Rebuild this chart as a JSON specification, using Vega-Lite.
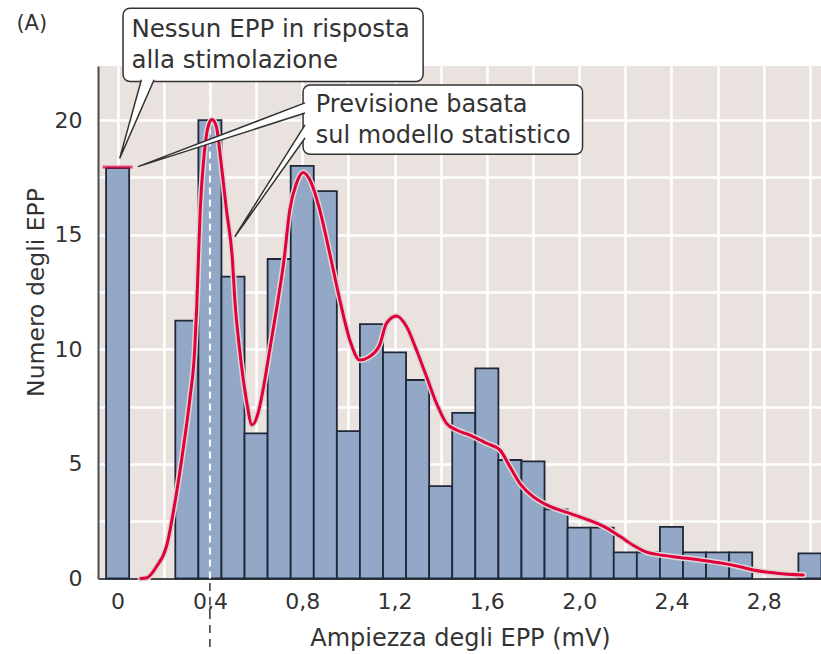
{
  "$schema": "https://vega.github.io/schema/vega-lite/v6.json",
  "width": 723,
  "height": 512.5,
  "autosize": "none",
  "padding": {"left": 98, "top": 66, "right": 0, "bottom": 75.5},
  "background": "white",
  "config": {
    "view": {"fill": "#e9e2df", "stroke": null},
    "font": "DejaVu Sans",
    "text": {"font": "DejaVu Sans", "color": "#333333"}
  },
  "datasets": {
    "hist": [
      {"bin_start": -0.05, "bin_end": 0.05, "count": 17.9},
      {"bin_start": 0.25, "bin_end": 0.35, "count": 11.25},
      {"bin_start": 0.35, "bin_end": 0.45, "count": 20.0},
      {"bin_start": 0.45, "bin_end": 0.55, "count": 13.17},
      {"bin_start": 0.55, "bin_end": 0.65, "count": 6.33},
      {"bin_start": 0.65, "bin_end": 0.75, "count": 13.94},
      {"bin_start": 0.75, "bin_end": 0.85, "count": 18.0},
      {"bin_start": 0.85, "bin_end": 0.95, "count": 16.9},
      {"bin_start": 0.95, "bin_end": 1.05, "count": 6.43},
      {"bin_start": 1.05, "bin_end": 1.15, "count": 11.1},
      {"bin_start": 1.15, "bin_end": 1.25, "count": 9.87},
      {"bin_start": 1.25, "bin_end": 1.35, "count": 8.66},
      {"bin_start": 1.35, "bin_end": 1.45, "count": 4.03},
      {"bin_start": 1.45, "bin_end": 1.55, "count": 7.23},
      {"bin_start": 1.55, "bin_end": 1.65, "count": 9.17},
      {"bin_start": 1.65, "bin_end": 1.75, "count": 5.17},
      {"bin_start": 1.75, "bin_end": 1.85, "count": 5.11},
      {"bin_start": 1.85, "bin_end": 1.95, "count": 3.02},
      {"bin_start": 1.95, "bin_end": 2.05, "count": 2.22},
      {"bin_start": 2.05, "bin_end": 2.15, "count": 2.22},
      {"bin_start": 2.15, "bin_end": 2.25, "count": 1.14},
      {"bin_start": 2.25, "bin_end": 2.35, "count": 1.14},
      {"bin_start": 2.35, "bin_end": 2.45, "count": 2.25},
      {"bin_start": 2.45, "bin_end": 2.55, "count": 1.14},
      {"bin_start": 2.55, "bin_end": 2.65, "count": 1.14},
      {"bin_start": 2.65, "bin_end": 2.75, "count": 1.14},
      {"bin_start": 2.95, "bin_end": 3.05, "count": 1.1}
    ],
    "model": [
      {"amp": 0.10, "n": 0},
      {"amp": 0.125, "n": 0.02},
      {"amp": 0.168, "n": 0.51},
      {"amp": 0.2115, "n": 1.39},
      {"amp": 0.255, "n": 3.72},
      {"amp": 0.2835, "n": 5.61},
      {"amp": 0.3125, "n": 7.79},
      {"amp": 0.334, "n": 9.97},
      {"amp": 0.343, "n": 11.9},
      {"amp": 0.350, "n": 13.9},
      {"amp": 0.358, "n": 16.08},
      {"amp": 0.373, "n": 18.26},
      {"amp": 0.392, "n": 19.71},
      {"amp": 0.409, "n": 20.03},
      {"amp": 0.428, "n": 19.71},
      {"amp": 0.447, "n": 18.26},
      {"amp": 0.4716, "n": 16.08},
      {"amp": 0.4976, "n": 13.9},
      {"amp": 0.508, "n": 12.15},
      {"amp": 0.529, "n": 9.97},
      {"amp": 0.558, "n": 7.79},
      {"amp": 0.5826, "n": 6.7},
      {"amp": 0.6086, "n": 7.21},
      {"amp": 0.630, "n": 8.22},
      {"amp": 0.659, "n": 9.97},
      {"amp": 0.688, "n": 11.71},
      {"amp": 0.721, "n": 13.9},
      {"amp": 0.746, "n": 16.08},
      {"amp": 0.775, "n": 17.24},
      {"amp": 0.804, "n": 17.71},
      {"amp": 0.840, "n": 17.24},
      {"amp": 0.876, "n": 16.08},
      {"amp": 0.919, "n": 14.19},
      {"amp": 0.963, "n": 12.15},
      {"amp": 1.006, "n": 10.41},
      {"amp": 1.050, "n": 9.53},
      {"amp": 1.092, "n": 9.68},
      {"amp": 1.136, "n": 10.2},
      {"amp": 1.165, "n": 11.13},
      {"amp": 1.208, "n": 11.45},
      {"amp": 1.252, "n": 10.99},
      {"amp": 1.295, "n": 9.97},
      {"amp": 1.339, "n": 8.8},
      {"amp": 1.382, "n": 7.64},
      {"amp": 1.425, "n": 6.77},
      {"amp": 1.469, "n": 6.48},
      {"amp": 1.526, "n": 6.26},
      {"amp": 1.599, "n": 5.9},
      {"amp": 1.656, "n": 5.61},
      {"amp": 1.700, "n": 4.88},
      {"amp": 1.743, "n": 4.15},
      {"amp": 1.801, "n": 3.57},
      {"amp": 1.859, "n": 3.21},
      {"amp": 1.960, "n": 2.84},
      {"amp": 2.061, "n": 2.47},
      {"amp": 2.120, "n": 2.2},
      {"amp": 2.175, "n": 1.85},
      {"amp": 2.234, "n": 1.45},
      {"amp": 2.292, "n": 1.15},
      {"amp": 2.350, "n": 1.03},
      {"amp": 2.436, "n": 0.92},
      {"amp": 2.523, "n": 0.81},
      {"amp": 2.624, "n": 0.66},
      {"amp": 2.697, "n": 0.51},
      {"amp": 2.754, "n": 0.37},
      {"amp": 2.856, "n": 0.23},
      {"amp": 2.971, "n": 0.15}
    ],
    "boxes": [
      {"box": "nessun", "x0": 0.0234, "x1": 1.3238, "y0": 21.68, "y1": 24.88},
      {"box": "previsione", "x0": 0.8036, "x1": 2.0147, "y0": 18.51, "y1": 21.53}
    ],
    "tails": [
      {"tail": "t1", "i": 0, "amp": 0.103, "n": 21.76},
      {"tail": "t1", "i": 1, "amp": 0.009, "n": 18.33},
      {"tail": "t1", "i": 2, "amp": 0.158, "n": 21.76},
      {"tail": "t2", "i": 0, "amp": 0.812, "n": 20.75},
      {"tail": "t2", "i": 1, "amp": 0.0884, "n": 17.97},
      {"tail": "t2", "i": 2, "amp": 0.812, "n": 20.31},
      {"tail": "t3", "i": 0, "amp": 0.812, "n": 19.79},
      {"tail": "t3", "i": 1, "amp": 0.5076, "n": 14.91},
      {"tail": "t3", "i": 2, "amp": 0.812, "n": 19.22}
    ],
    "labels": [
      {"amp": 0.0598, "n": 23.61, "text": "Nessun EPP in risposta", "size": 24.5},
      {"amp": 0.0598, "n": 22.26, "text": "alla stimolazione", "size": 24.5},
      {"amp": 0.8587, "n": 20.34, "text": "Previsione basata", "size": 24},
      {"amp": 0.8587, "n": 18.99, "text": "sul modello statistico", "size": 24},
      {"amp": -0.4387, "n": 23.95, "text": "(A)", "size": 21}
    ]
  },
  "layer": [
    {
      "data": {"name": "hist"},
      "mark": {"type": "rect", "fill": "#93a8c7", "stroke": "#1f2838", "strokeWidth": 1.8},
      "encoding": {
        "x": {
          "field": "bin_start", "type": "quantitative",
          "scale": {"domain": [-0.085, 3.048], "nice": false, "zero": false},
          "title": "Ampiezza degli EPP (mV)",
          "axis": {
            "values": [0, 0.1, 0.2, 0.3, 0.4, 0.5, 0.6, 0.7, 0.8, 0.9, 1.0, 1.1, 1.2, 1.3, 1.4, 1.5, 1.6, 1.7, 1.8, 1.9, 2.0, 2.1, 2.2, 2.3, 2.4, 2.5, 2.6, 2.7, 2.8, 2.9, 3.0],
            "grid": true, "gridColor": "#ffffff", "gridWidth": 2.5, "gridOpacity": 1,
            "ticks": false, "tickSize": 0,
            "domainColor": "#4a4a4a", "domainWidth": 2,
            "labelExpr": "round(datum.value*10) % 4 == 0 ? (datum.value == 0 ? '0' : replace(format(datum.value, '.1f'), '.', ',')) : ''",
            "labelFontSize": 22, "labelColor": "#333333", "labelFont": "DejaVu Sans",
            "labelBaseline": "alphabetic", "labelPadding": 29.5,
            "labelFlush": false, "labelOverlap": false,
            "titleFontSize": 24, "titleFontWeight": "normal", "titleColor": "#333333", "titleFont": "DejaVu Sans",
            "titleBaseline": "alphabetic", "titleY": 66.5, "titleX": 362
          }
        },
        "x2": {"field": "bin_end"},
        "y": {
          "field": "count", "type": "quantitative",
          "scale": {"domain": [0, 22.36], "nice": false},
          "title": "Numero degli EPP",
          "axis": {
            "values": [0, 2.5, 5, 7.5, 10, 12.5, 15, 17.5, 20],
            "grid": true, "gridColor": "#ffffff", "gridWidth": 2.5, "gridOpacity": 1,
            "ticks": false, "tickSize": 0,
            "domainColor": "#4a4a4a", "domainWidth": 2,
            "labelExpr": "datum.value % 5 == 0 ? datum.label : ''",
            "labelFontSize": 22, "labelColor": "#333333", "labelFont": "DejaVu Sans",
            "labelPadding": 16, "labelBaseline": "middle",
            "labelFlush": false, "labelOverlap": false,
            "titleFontSize": 23.5, "titleFontWeight": "normal", "titleColor": "#333333", "titleFont": "DejaVu Sans",
            "titleAngle": 270, "titleBaseline": "alphabetic", "titleAlign": "center",
            "titleX": -55, "titleY": 226
          }
        },
        "y2": {"datum": 0}
      }
    },
    {
      "data": {"values": [{"amp": 0.4}]},
      "mark": {"type": "rule", "color": "white", "strokeWidth": 2, "strokeDash": [7, 5]},
      "encoding": {
        "x": {"field": "amp", "type": "quantitative", "scale": {"domain": [-0.085, 3.048], "nice": false, "zero": false}, "title": "Ampiezza degli EPP (mV)"},
        "y": {"datum": 0, "type": "quantitative", "scale": {"domain": [0, 22.36], "nice": false}},
        "y2": {"datum": 22.36}
      }
    },
    {
      "data": {"values": [{"amp": 0.4}]},
      "mark": {"type": "rule", "color": "#333333", "strokeWidth": 1.5, "strokeDash": [8, 6], "clip": false},
      "encoding": {
        "x": {"field": "amp", "type": "quantitative", "scale": {"domain": [-0.085, 3.048], "nice": false, "zero": false}, "title": "Ampiezza degli EPP (mV)"},
        "y": {"datum": -0.2, "type": "quantitative", "scale": {"domain": [0, 22.36], "nice": false}},
        "y2": {"datum": -3.05}
      }
    },
    {
      "data": {"name": "model"},
      "mark": {"type": "line", "color": "#ddd5d5", "strokeWidth": 6, "interpolate": "monotone", "strokeCap": "round"},
      "encoding": {
        "x": {"field": "amp", "type": "quantitative", "scale": {"domain": [-0.085, 3.048], "nice": false, "zero": false}, "title": "Ampiezza degli EPP (mV)"},
        "y": {"field": "n", "type": "quantitative", "scale": {"domain": [0, 22.36], "nice": false}, "title": "Numero degli EPP"}
      }
    },
    {
      "data": {"name": "model"},
      "mark": {"type": "line", "color": "#e2003b", "strokeWidth": 3, "interpolate": "monotone", "strokeCap": "round"},
      "encoding": {
        "x": {"field": "amp", "type": "quantitative", "scale": {"domain": [-0.085, 3.048], "nice": false, "zero": false}, "title": "Ampiezza degli EPP (mV)"},
        "y": {"field": "n", "type": "quantitative", "scale": {"domain": [0, 22.36], "nice": false}, "title": "Numero degli EPP"}
      }
    },
    {
      "data": {"values": [{"amp": 0, "n": 17.95}]},
      "mark": {"type": "tick", "orient": "horizontal", "color": "#e2003b", "size": 30, "thickness": 3},
      "encoding": {
        "x": {"field": "amp", "type": "quantitative", "scale": {"domain": [-0.085, 3.048], "nice": false, "zero": false}, "title": "Ampiezza degli EPP (mV)"},
        "y": {"field": "n", "type": "quantitative", "scale": {"domain": [0, 22.36], "nice": false}, "title": "Numero degli EPP"}
      }
    },
    {
      "data": {"name": "boxes"},
      "mark": {"type": "rect", "fill": "white", "stroke": "#333333", "strokeWidth": 1.5, "cornerRadius": 7, "clip": false},
      "encoding": {
        "x": {"field": "x0", "type": "quantitative", "scale": {"domain": [-0.085, 3.048], "nice": false, "zero": false}, "title": "Ampiezza degli EPP (mV)"},
        "x2": {"field": "x1"},
        "y": {"field": "y0", "type": "quantitative", "scale": {"domain": [0, 22.36], "nice": false}, "title": "Numero degli EPP"},
        "y2": {"field": "y1"}
      }
    },
    {
      "data": {"name": "tails"},
      "mark": {"type": "line", "fill": "white", "stroke": "#333333", "strokeWidth": 1.5, "strokeJoin": "miter", "clip": false},
      "encoding": {
        "x": {"field": "amp", "type": "quantitative", "scale": {"domain": [-0.085, 3.048], "nice": false, "zero": false}, "title": "Ampiezza degli EPP (mV)"},
        "y": {"field": "n", "type": "quantitative", "scale": {"domain": [0, 22.36], "nice": false}, "title": "Numero degli EPP"},
        "detail": {"field": "tail"},
        "order": {"field": "i"}
      }
    },
    {
      "data": {"name": "labels"},
      "mark": {"type": "text", "align": "left", "baseline": "alphabetic", "clip": false, "color": "#333333", "font": "DejaVu Sans"},
      "encoding": {
        "x": {"field": "amp", "type": "quantitative", "scale": {"domain": [-0.085, 3.048], "nice": false, "zero": false}, "title": "Ampiezza degli EPP (mV)"},
        "y": {"field": "n", "type": "quantitative", "scale": {"domain": [0, 22.36], "nice": false}, "title": "Numero degli EPP"},
        "text": {"field": "text"},
        "size": {"field": "size", "type": "quantitative", "scale": null}
      }
    }
  ]
}
